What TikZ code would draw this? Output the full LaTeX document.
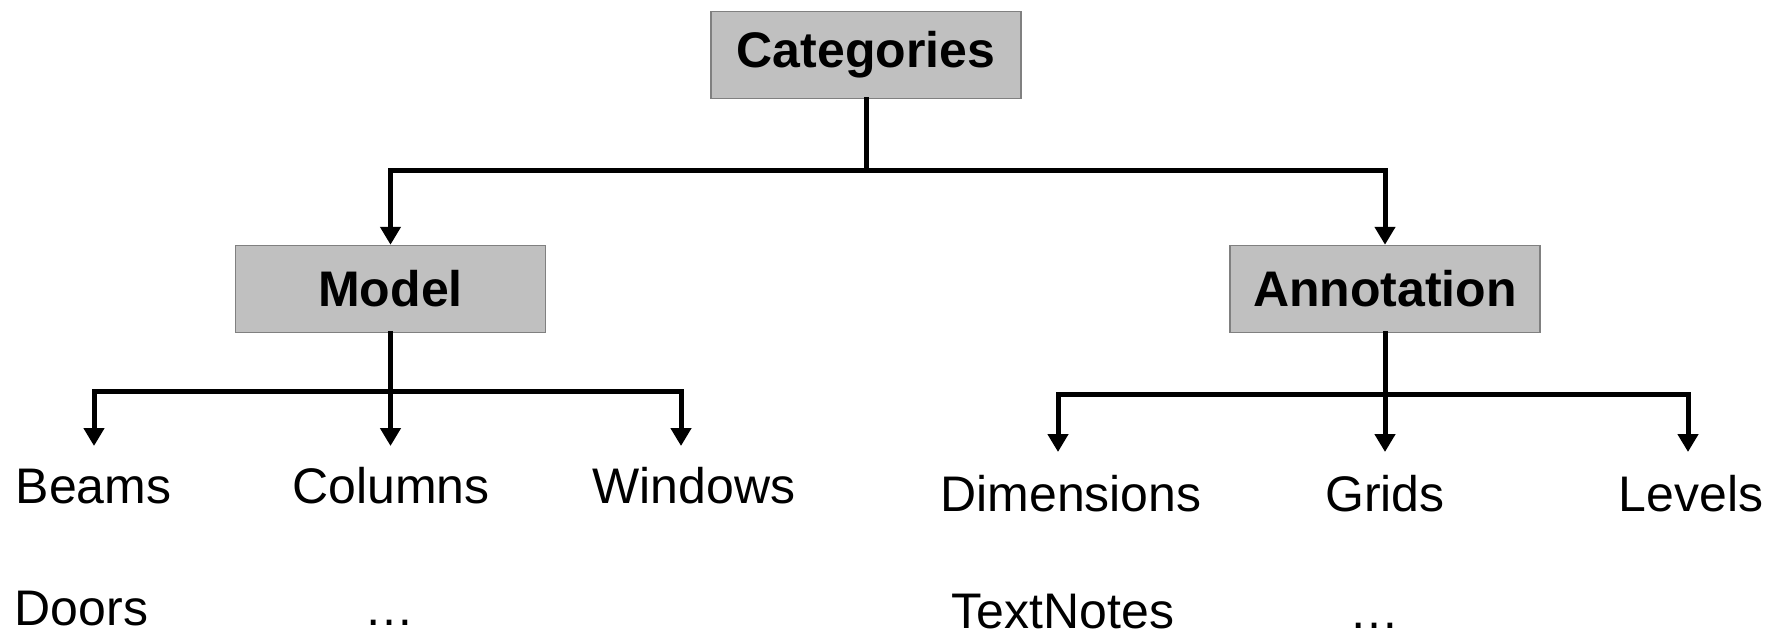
\documentclass[tikz,border=0pt]{standalone}
\usepackage{fontspec}
\setmainfont{Liberation Sans}
\usetikzlibrary{arrows.meta}
\definecolor{boxfill}{HTML}{C0C0C0}
\definecolor{boxline}{HTML}{808080}
\tikzset{
  catbox/.style={draw=boxline, line width=0.75pt, fill=boxfill, inner sep=0pt,
    minimum width=155pt, minimum height=43.5pt, font=\fontsize{25}{30}\selectfont\bfseries},
  leaf/.style={inner sep=0pt, anchor=base, font=\fontsize{25}{30}\selectfont},
  wire/.style={line width=2.5pt, line cap=rect, line join=miter},
  arr/.style={line width=2.5pt, -{Triangle[length=9pt,width=10pt]}}
}
\begin{document}
\begin{tikzpicture}[x=0.5pt, y=-0.5pt]
  \useasboundingbox (0,0) rectangle (1779,639);

  % category boxes
  \node[catbox] (cat)   at (866,55)   {Categories};
  \node[catbox] (model) at (390.5,289) {Model};
  \node[catbox] (annot) at (1385,289) {Annotation};

  % junction points of the bus lines
  \coordinate (topbus)   at (866,170);
  \coordinate (modelbus) at (390.5,391);
  \coordinate (annotbus) at (1385,394);

  % arrow tips above the leaf labels
  \coordinate (beamsTip)   at (94,446);
  \coordinate (columnsTip) at (390.5,446);
  \coordinate (windowsTip) at (681,446);
  \coordinate (dimTip)     at (1058,452);
  \coordinate (gridsTip)   at (1385,452);
  \coordinate (levelsTip)  at (1688,452);

  % leaf labels
  \node[leaf] (beams)   at (93.5,503) {Beams};
  \node[leaf] (columns) at (391,503)  {Columns};
  \node[leaf] (windows) at (694,503)  {Windows};
  \node[leaf] (doors)   at (81.5,625) {Doors};
  \node[leaf] (mdots)   at (389,625)  {\dots};
  \node[leaf] (dims)    at (1071,511) {Dimensions};
  \node[leaf] (grids)   at (1385,511) {Grids};
  \node[leaf] (levels)  at (1691,511) {Levels};
  \node[leaf] (notes)   at (1063,628) {TextNotes};
  \node[leaf] (adots)   at (1374,628) {\dots};

  % top level
  \draw[wire] (cat.south) -- (topbus);
  \draw[arr] (topbus) -| (model.north);
  \draw[arr] (topbus) -| (annot.north);

  % model branch
  \draw[wire] (model.south) -- (modelbus);
  \draw[arr] (modelbus) -| (beamsTip);
  \draw[arr] (modelbus) -- (columnsTip);
  \draw[arr] (modelbus) -| (windowsTip);

  % annotation branch
  \draw[wire] (annot.south) -- (annotbus);
  \draw[arr] (annotbus) -| (dimTip);
  \draw[arr] (annotbus) -- (gridsTip);
  \draw[arr] (annotbus) -| (levelsTip);
\end{tikzpicture}
\end{document}
